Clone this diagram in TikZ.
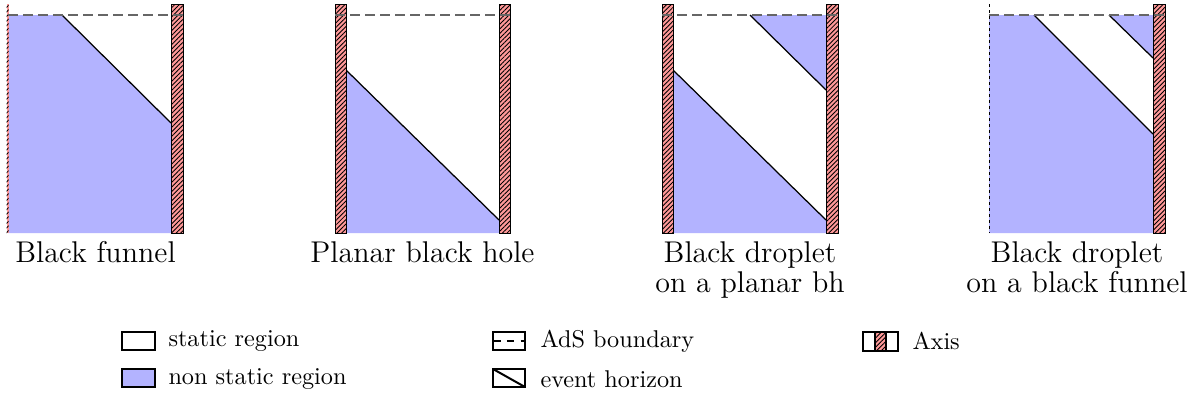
\documentclass[tikz,border=0pt]{standalone}
\usetikzlibrary{patterns.meta}
\definecolor{nonstatic}{RGB}{179,179,255}
\definecolor{axispink}{RGB}{255,153,153}
\tikzset{
 axisstrip/.style={draw=black, line width=0.4pt, preaction={fill=axispink}, pattern={Lines[angle=45,distance=1.3pt,line width=0.35pt]}, pattern color=black},
 nonstat/.style={fill=nonstatic},
 horizon/.style={draw=black, line width=0.5pt},
 adsline/.style={draw=black!60, line width=0.8pt, dash pattern=on 4pt off 2pt},
 panellabel/.style={font=\fontsize{12}{12}\selectfont, align=center, anchor=north, inner sep=0pt},
 legbox/.style={draw=black, line width=0.8pt},
 legtext/.style={font=\fontsize{9.7}{12}\selectfont, anchor=west, inner sep=0pt},
}
\begin{document}
\begin{tikzpicture}[x=0.4pt,y=-0.4pt]
\useasboundingbox (0,0) rectangle (1199,400);
% Panel 1: black funnel
\fill[nonstat] (8,15) -- (62,15) -- (171,123) -- (171,233) -- (8,233) -- cycle;
\draw[horizon] (62,15) -- (171,123);
\path[axisstrip] (171,4) rectangle (183,233);
\path[axisstrip, draw=none] (6.5,4) rectangle (8.5,233);
\draw[adsline] (8,15) -- (183,15);
% Panel 2: planar black hole
\fill[nonstat] (346,70) -- (499,220) -- (499,233) -- (346,233) -- cycle;
\draw[horizon] (346,70) -- (499,220);
\path[axisstrip] (335,4) rectangle (346,233);
\path[axisstrip] (499,4) rectangle (510,233);
\draw[adsline] (335,15) -- (510,15);
% Panel 3: droplet on planar bh
\fill[nonstat] (750,15) -- (826,15) -- (826,90) -- cycle;
\fill[nonstat] (673,70) -- (826,220) -- (826,233) -- (673,233) -- cycle;
\draw[horizon] (750,15) -- (826,90);
\draw[horizon] (673,70) -- (826,220);
\path[axisstrip] (662,4) rectangle (673,233);
\path[axisstrip] (826,4) rectangle (838,233);
\draw[adsline] (662,15) -- (838,15);
% Panel 4: droplet on black funnel
\fill[nonstat] (989,15) -- (1034,15) -- (1153,134) -- (1153,233) -- (989,233) -- cycle;
\fill[nonstat] (1109,15) -- (1153,15) -- (1153,58) -- cycle;
\draw[horizon] (1034,15) -- (1153,134);
\draw[horizon] (1109,15) -- (1153,58);
\draw[black, line width=0.4pt, dash pattern=on 1.2pt off 1.2pt] (989,4) -- (989,233);
\path[axisstrip] (1153,4) rectangle (1165,233);
\draw[adsline] (989,15) -- (1165,15);
% Labels
\node[panellabel] (l1) at (95.5,241) {Black funnel};
\node[panellabel] (l2) at (422.5,241) {Planar black hole};
\node[panellabel] (l3) at (750,241) {Black droplet\\on a planar bh};
\node[panellabel] (l4) at (1077,241) {Black droplet\\on a black funnel};
% Legend
\draw[legbox, fill=white] (122,332) rectangle (155,350);
\node[legtext] (t1) at (168,341) {static region};
\draw[legbox, fill=nonstatic] (122,369) rectangle (155,387);
\node[legtext] (t2) at (168,379) {non static region};
\draw[legbox] (493,332) rectangle (525,350);
\draw[line width=0.8pt, dash pattern=on 3pt off 2.5pt] (493,341) -- (525,341);
\node[legtext] (t3) at (540,341) {AdS boundary};
\draw[legbox] (493,369) rectangle (525,387);
\draw[legbox] (493,369) -- (525,387);
\node[legtext] (t4) at (540,379) {event horizon};
\path[axisstrip, draw=none] (875,332) rectangle (886,351);
\draw[legbox] (863,332) rectangle (898,351);
\draw[legbox] (875,332) -- (875,351) (886,332) -- (886,351);
\node[legtext] (t5) at (912,341) {Axis};
\end{tikzpicture}
\end{document}
